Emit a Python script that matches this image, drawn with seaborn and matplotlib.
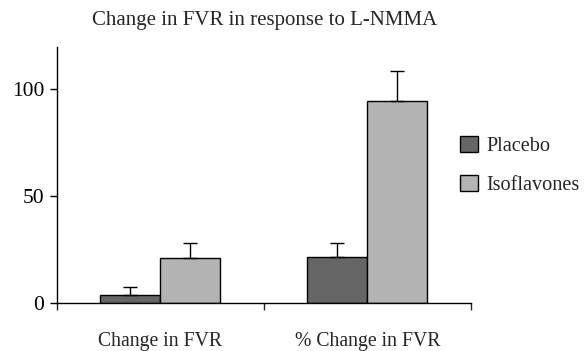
import seaborn as sns
import matplotlib
matplotlib.use("Agg")
import matplotlib.pyplot as plt
import pandas as pd

categories = ["Change in FVR", "% Change in FVR"]
groups = ["Placebo", "Isoflavones"]
placebo = [3.9, 21.6]
isoflavones = [21.4, 94.4]
placebo_err = [3.5, 6.8]
iso_err = [7.0, 14.3]
title = "Change in FVR in response to L-NMMA"
yticks = [0, 50, 100]

df = pd.DataFrame({
    "measure": categories * 2,
    "group": [groups[0]] * len(categories) + [groups[1]] * len(categories),
    "value": placebo + isoflavones,
})

sns.set_style("ticks")
plt.rcParams['font.family'] = ['Liberation Serif', 'DejaVu Serif']

fig = plt.figure(figsize=(5.84, 3.51), dpi=100)
ax = fig.add_axes([0.097, 0.136, 0.709, 0.731])
sns.barplot(data=df, x="measure", y="value", hue="group",
            palette=["#666666", "#b3b3b3"], width=0.58, edgecolor="black",
            linewidth=1, errorbar=None, saturation=1, ax=ax)

for container, errs in zip(ax.containers, [placebo_err, iso_err]):
    xs = [p.get_x() + p.get_width() / 2 for p in container]
    hs = [p.get_height() for p in container]
    ax.errorbar(xs, hs, yerr=[[0] * len(errs), errs], fmt='none',
                ecolor='black', elinewidth=1, capsize=5, capthick=1, zorder=3)

ax.set_ylim(0, 120)
ax.set_xlim(-0.5, 1.5)
ax.set_yticks(yticks)
ax.tick_params(axis='y', direction='out', length=5, width=1, pad=4,
               labelsize=15.5, colors='black')
ax.set_xticks([-0.5, 0.5, 1.5])
ax.set_xticklabels([])
ax.set_xticks([0, 1], minor=True)
ax.set_xticklabels(categories, minor=True)
ax.tick_params(axis='x', which='major', direction='out', length=5, width=1)
ax.tick_params(axis='x', which='minor', length=0, pad=20.5, labelsize=14.2)
ax.set_xlabel("")
ax.set_ylabel("")
for s in ["top", "right"]:
    ax.spines[s].set_visible(False)
for s in ["left", "bottom"]:
    ax.spines[s].set_color("black")
    ax.spines[s].set_linewidth(1)

handles, labels = ax.get_legend_handles_labels()
ax.legend(handles, labels, loc='center left', bbox_to_anchor=(0.787, 0.528),
          bbox_transform=fig.transFigure, frameon=False, fontsize=14.6,
          handlelength=0.9, handleheight=0.8, labelspacing=0.95,
          handletextpad=0.42, borderpad=0, borderaxespad=0)

fig.text(0.4536, 1 - 20 / 351, title, ha='center', va='center', fontsize=15)

fig.savefig("out.png", dpi=100)
